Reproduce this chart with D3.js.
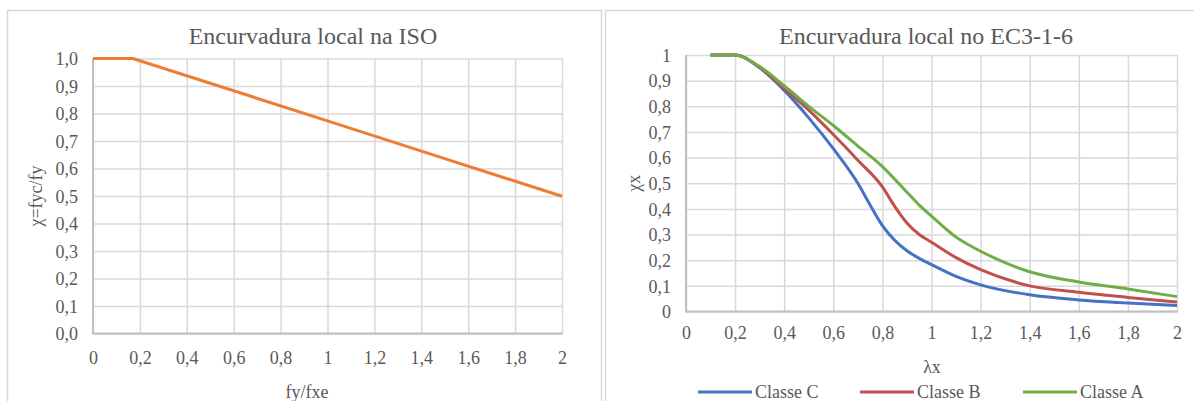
<!DOCTYPE html>
<html lang="pt">
    <head>
        <meta charset="utf-8">
        <title>Encurvadura local</title>
        <script type="text/javascript" src="https://cdn.jsdelivr.net/npm/d3@7"></script>
        <style type="text/css">
			body { margin: 0; background: #fff; }
			svg text { font-family: "Liberation Serif", serif !important; fill: #595959; }
			.grid line { stroke: #d9d9d9; stroke-width: 1.5; }
			.grid path { display: none; }
			.lbl path, .lbl line { display: none; }
		</style>
    </head>
    <body>
        <script type="text/javascript">

			var W = 1194, H = 401;

			// ISO: fyc/fy vs fy/fxe
			var isoX = [0, 0.17, 0.5, 1.0, 1.5, 2.0];
			var isoY = [1, 1, 0.910, 0.773, 0.636, 0.499];

			// EC3-1-6: chi_x vs lambda_x
			var lamC = [0.1, 0.2, 0.3, 0.4, 0.5, 0.6, 0.7, 0.75, 0.8, 0.85, 0.9, 0.95, 1.0, 1.1, 1.2, 1.4, 1.6, 1.8, 2.0];
			var classeC = [1, 1, 0.95, 0.862, 0.755, 0.635, 0.5, 0.415, 0.335, 0.278, 0.237, 0.207, 0.183, 0.137, 0.104, 0.065, 0.045, 0.033, 0.023];
			var lamB = [0.1, 0.2, 0.3, 0.4, 0.5, 0.6, 0.7, 0.8, 0.85, 0.9, 0.95, 1.0, 1.1, 1.2, 1.4, 1.6, 1.8, 2.0];
			var classeB = [1, 1, 0.952, 0.87, 0.785, 0.69, 0.59, 0.486, 0.41, 0.345, 0.30, 0.27, 0.21, 0.163, 0.10, 0.075, 0.055, 0.037];
			var lamA = [0.1, 0.2, 0.3, 0.4, 0.5, 0.6, 0.7, 0.8, 0.9, 0.95, 1.0, 1.1, 1.2, 1.4, 1.6, 1.8, 2.0];
			var classeA = [1, 1, 0.955, 0.88, 0.80, 0.725, 0.645, 0.565, 0.465, 0.415, 0.372, 0.29, 0.235, 0.155, 0.115, 0.088, 0.058];

			var xTicks = [0, 0.2, 0.4, 0.6, 0.8, 1, 1.2, 1.4, 1.6, 1.8, 2];
			var yTicks = [0, 0.1, 0.2, 0.3, 0.4, 0.5, 0.6, 0.7, 0.8, 0.9, 1];

			var comma = function(s) { return s.replace(".", ","); };
			var fmtX = function(d) { return comma(String(+d.toFixed(1))); };
			var fmtY1 = function(d) { return comma(d.toFixed(1)); };

			var serif = "'Liberation Serif', serif";

			var svg = d3.select("body").append("svg")
						.attr("width", W)
						.attr("height", H);

			// chart frames
			svg.append("rect").attr("x", 7.5).attr("y", 10.5).attr("width", 594).attr("height", 500)
				.attr("fill", "none").attr("stroke", "#d9d9d9").attr("stroke-width", 1.5);
			svg.append("rect").attr("x", 605.5).attr("y", 10.5).attr("width", 700).attr("height", 500)
				.attr("fill", "none").attr("stroke", "#d9d9d9").attr("stroke-width", 1.5);

			function panel(o) {
				var x = d3.scaleLinear().domain([0, 2]).range([o.x0, o.x1]);
				var y = d3.scaleLinear().domain([0, 1]).range([o.y0, o.y1]);
				var g = svg.append("g");

				g.append("g").attr("class", "grid")
					.attr("transform", "translate(0," + o.y0 + ")")
					.call(d3.axisBottom(x).tickValues(xTicks).tickSize(o.y1 - o.y0).tickFormat(""));
				g.append("g").attr("class", "grid")
					.attr("transform", "translate(" + o.x0 + ",0)")
					.call(d3.axisLeft(y).tickValues(yTicks).tickSize(o.x0 - o.x1).tickFormat(""));

				// axis lines
				g.append("line").attr("x1", o.x0).attr("x2", o.x0).attr("y1", o.y0 + 1).attr("y2", o.y1)
					.attr("stroke", "#bfbfbf").attr("stroke-width", 2);
				g.append("line").attr("x1", o.x0).attr("x2", o.x1 + 1).attr("y1", o.y0).attr("y2", o.y0)
					.attr("stroke", "#bfbfbf").attr("stroke-width", 2);

				var xl = g.append("g").attr("class", "lbl")
					.attr("transform", "translate(0," + o.xLabY + ")")
					.call(d3.axisBottom(x).tickValues(xTicks).tickSize(0).tickPadding(0).tickFormat(fmtX));
				xl.attr("font-family", serif);
				xl.selectAll("text").attr("dy", null).attr("font-size", o.fs).style("fill", "#595959");

				var yl = g.append("g").attr("class", "lbl")
					.attr("transform", "translate(" + o.yLabX + ",0)")
					.call(d3.axisLeft(y).tickValues(yTicks).tickSize(0).tickPadding(0).tickFormat(o.fmtY));
				yl.attr("font-family", serif);
				yl.selectAll("text").attr("dy", "0.35em").attr("font-size", o.fs).style("fill", "#595959");

				g.append("text").attr("x", o.titleX).attr("y", 44).attr("text-anchor", "middle")
					.attr("font-size", 24).text(o.title);

				g.append("text").attr("x", o.xTitleX).attr("y", o.xTitleY).attr("text-anchor", "middle")
					.attr("font-size", o.fs).text(o.xTitle);

				g.append("text").attr("transform", "translate(" + o.yTitleX + "," + ((o.y0 + o.y1) / 2) + ") rotate(-90)")
					.attr("text-anchor", "middle").attr("dy", "0.35em")
					.attr("font-size", o.fs).text(o.yTitle);

				return { x: x, y: y, g: g };
			}

			var line = function(p) {
				return d3.line().x(function(d) { return p.x(d[0]); }).y(function(d) { return p.y(d[1]); })
					.curve(d3.curveMonotoneX);
			};

			// left chart
			var p1 = panel({
				x0: 93, x1: 562, y0: 333.5, y1: 58.5, fs: 18,
				xLabY: 364, yLabX: 78, fmtY: fmtY1,
				title: "Encurvadura local na ISO", titleX: 313,
				xTitle: "fy/fxe", xTitleX: 307, xTitleY: 398,
				yTitle: "χ=fyc/fy", yTitleX: 36
			});
			p1.g.append("path")
				.datum(d3.zip(isoX, isoY))
				.attr("fill", "none").attr("stroke", "#ed7d31").attr("stroke-width", 3)
				.attr("d", d3.line().x(function(d) { return p1.x(d[0]); }).y(function(d) { return p1.y(d[1]); }));

			// right chart
			var p2 = panel({
				x0: 686, x1: 1177, y0: 311.5, y1: 55, fs: 18,
				xLabY: 339, yLabX: 671, fmtY: fmtX,
				title: "Encurvadura local no EC3-1-6", titleX: 926,
				xTitle: "λx", xTitleX: 932, xTitleY: 373,
				yTitle: "χx", yTitleX: 634
			});

			var series = [
				{ name: "Classe C", lam: lamC, v: classeC, color: "#4472c4" },
				{ name: "Classe B", lam: lamB, v: classeB, color: "#c0504d" },
				{ name: "Classe A", lam: lamA, v: classeA, color: "#70ad47" }
			];

			p2.g.selectAll("path.serie")
				.data(series)
				.enter().append("path")
				.attr("class", "serie")
				.attr("fill", "none")
				.attr("stroke", function(d) { return d.color; })
				.attr("stroke-width", 3)
				.attr("stroke-linejoin", "round")
				.attr("d", function(d) { return line(p2)(d3.zip(d.lam, d.v)); });

			// legend
			var legX = [698, 860, 1023];
			var leg = svg.selectAll("g.leg").data(series).enter().append("g")
				.attr("class", "leg")
				.attr("transform", function(d, i) { return "translate(" + legX[i] + ",392)"; });
			leg.append("line").attr("x1", 0).attr("x2", 54).attr("y1", 0).attr("y2", 0)
				.attr("stroke", function(d) { return d.color; }).attr("stroke-width", 3);
			leg.append("text").attr("x", 57).attr("y", 6).attr("font-size", 18)
				.text(function(d) { return d.name; });

        </script>
    </b>
</html>
